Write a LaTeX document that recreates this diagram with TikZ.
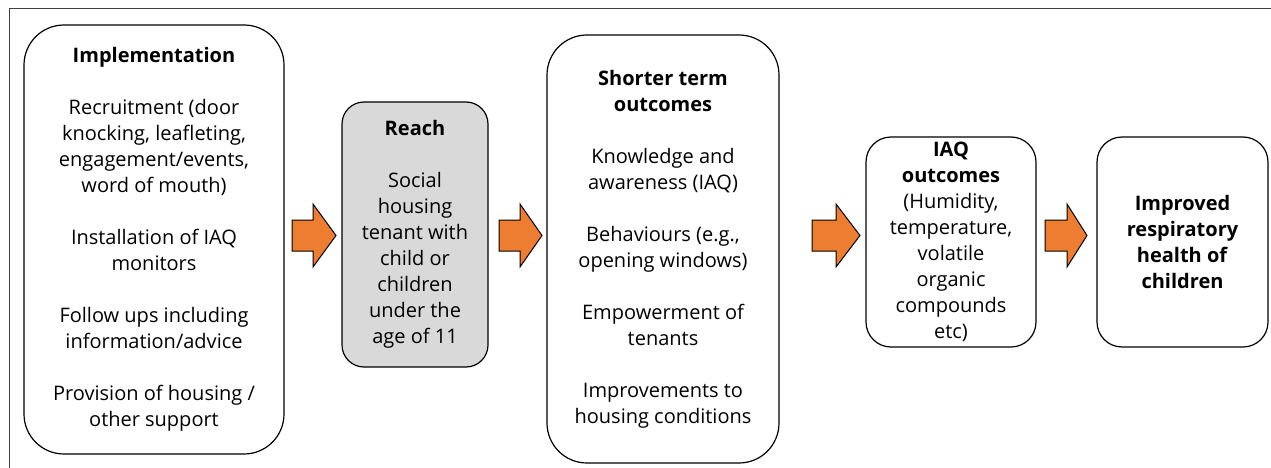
\documentclass[tikz,border=0pt]{standalone}
\usepackage{fontspec}
\setmainfont{Open Sans}
\definecolor{arrorange}{HTML}{ED7D31}
\definecolor{reachgray}{HTML}{D9D9D9}
\definecolor{framegray}{HTML}{404040}
\newcommand\pgap{\\[26pt]}
\tikzset{
  box/.style={draw=black, line width=1.2pt, align=center, inner sep=0pt,
    font=\fontsize{20}{26}\selectfont},
  blockarrow/.style={draw=black, line width=1pt, fill=arrorange, line join=miter},
  frameline/.style={draw=framegray, line width=1pt}
}
\begin{document}
\begin{tikzpicture}[x=1pt,y=-1pt]
\useasboundingbox (0,0) rectangle (1271,468);
\coordinate (ftl) at (9,9);
\coordinate (ftr) at (1271,9);
\coordinate (fbl) at (9,468);
\draw[frameline] (ftr) -- (ftl) -- (fbl);

\node[box, minimum width=260pt, minimum height=429pt, rounded corners=40pt] (impl) at (154,239.5)
 {\textbf{Implementation}\pgap Recruitment (door\\knocking, leafleting,\\engagement/events,\\word of mouth)\pgap
  Installation of IAQ\\monitors\pgap Follow ups including\\information/advice\pgap Provision of housing /\\other support};

\node[box, fill=reachgray, minimum width=146pt, minimum height=265pt, rounded corners=22pt] (reach) at (415,234.5)
 {\textbf{Reach}\pgap Social\\housing\\tenant with\\child or\\children\\under the\\age of 11};

\node[box, minimum width=232pt, minimum height=428pt, rounded corners=40pt] (short) at (663,249)
 {\textbf{Shorter term}\\\textbf{outcomes}\pgap Knowledge and\\awareness (IAQ)\pgap Behaviours (e.g.,\\opening windows)\pgap
  Empowerment of\\tenants\pgap Improvements to\\housing conditions};

\node[box, minimum width=170pt, minimum height=210pt, rounded corners=25pt] (iaq) at (951,242)
 {\textbf{IAQ}\\\textbf{outcomes}\\(Humidity,\\temperature,\\volatile\\organic\\compounds\\etc)};

\node[box, minimum width=171pt, minimum height=210pt, rounded corners=25pt] (resp) at (1182.5,242)
 {\textbf{Improved}\\\textbf{respiratory}\\\textbf{health of}\\\textbf{children}};

% block arrows
\foreach \n/\x/\s/\t in {a1/292/313/336, a2/499/520/542, a3/812/836/860, a4/1045/1067/1087}{
  \coordinate (\n) at (\x,235.5);
  \draw[blockarrow] (\n) ++(0,-15.5) -- (\s,220) -- (\s,204) -- (\t,235.5) -- (\s,267) -- (\s,251) -- (\x,251) -- cycle;
}
\end{tikzpicture}
\end{document}
